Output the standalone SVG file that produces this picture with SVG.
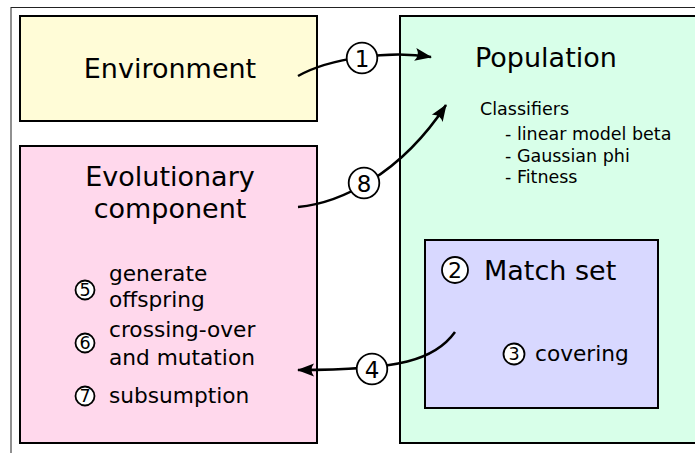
<svg xmlns="http://www.w3.org/2000/svg" width="695" height="453" viewBox="0 0 695 453">
  <defs>
    <marker id="arrow" markerUnits="userSpaceOnUse" markerWidth="24" markerHeight="20" viewBox="-20 -10 24 20" refX="0" refY="0" orient="auto">
      <path d="M1,0 L-16,-6.5 Q-11,0 -16,6.5 Z" fill="#000"/>
    </marker>
  </defs>
  <style>
    text { font-family: "DejaVu Sans", "Liberation Sans", sans-serif; fill: #000; }
    .box { stroke: #000; stroke-width: 2; }
    .title { font-size: 27px; }
    .item { font-size: 21.7px; }
    .small { font-size: 17.5px; }
    .conn { fill: none; stroke: #000; stroke-width: 2.5; }
    .badge { fill: #fff; stroke: #000; stroke-width: 1.8; }
    .num { text-anchor: middle; }
  </style>
  <rect x="0" y="0" width="695" height="453" fill="#fff"/>
  <rect x="11" y="7.5" width="700" height="460" fill="none" stroke="#222" stroke-width="1"/>

  <g id="environment">
    <rect class="box" x="20" y="16" width="297" height="105" fill="#fffcd7"/>
    <text class="title" x="170" y="78" text-anchor="middle">Environment</text>
  </g>

  <g id="evolutionary">
    <rect class="box" x="20" y="146" width="297" height="297" fill="#ffd8ec"/>
    <text class="title" x="170" y="186" text-anchor="middle">Evolutionary</text>
    <text class="title" x="170" y="218" text-anchor="middle">component</text>
    <circle class="badge" cx="85" cy="290" r="9.5"/>
    <text class="num" x="85" y="296.2" font-size="17.5">5</text>
    <text class="item" x="109" y="280.5">generate</text>
    <text class="item" x="109" y="306.5">offspring</text>
    <circle class="badge" cx="85" cy="343" r="9.5"/>
    <text class="num" x="85" y="349.2" font-size="17.5">6</text>
    <text class="item" x="109" y="337">crossing-over</text>
    <text class="item" x="109" y="365">and mutation</text>
    <circle class="badge" cx="85" cy="396" r="9.5"/>
    <text class="num" x="85" y="402.2" font-size="17.5">7</text>
    <text class="item" x="109" y="403">subsumption</text>
  </g>

  <g id="population">
    <rect class="box" x="400" y="16" width="310" height="427" fill="#d8ffe9"/>
    <text class="title" x="475" y="67">Population</text>
    <text class="small" x="480" y="115">Classifiers</text>
    <text class="small" x="505" y="140">- linear model beta</text>
    <text class="small" x="505" y="161.5">- Gaussian phi</text>
    <text class="small" x="505" y="183">- Fitness</text>
  </g>

  <g id="matchset">
    <rect class="box" x="425" y="240" width="233" height="168" fill="#d8d8ff"/>
    <circle class="badge" cx="455" cy="270" r="13"/>
    <text class="num" x="455" y="277.8" font-size="22">2</text>
    <text class="title" x="484" y="280">Match set</text>
    <circle class="badge" cx="514" cy="354" r="10.5"/>
    <text class="num" x="514" y="360.2" font-size="17.5">3</text>
    <text class="item" x="535" y="361">covering</text>
  </g>

  <g id="connectors">
    <path class="conn" d="M298,76 C330,58 390,50 431,57" marker-end="url(#arrow)"/>
    <path class="conn" d="M298,207 C340,203 400,175 446,105" marker-end="url(#arrow)"/>
    <path class="conn" d="M455,332 C435,360 400,370 298,370" marker-end="url(#arrow)"/>
    <g id="label1">
      <circle class="badge" cx="362" cy="58" r="15.3"/>
      <text class="num" x="362" y="66.5" font-size="23">1</text>
    </g>
    <g id="label8">
      <circle class="badge" cx="364" cy="183" r="15.3"/>
      <text class="num" x="364" y="191.5" font-size="23">8</text>
    </g>
    <g id="label4">
      <circle class="badge" cx="372" cy="369" r="15.3"/>
      <text class="num" x="372" y="377.5" font-size="23">4</text>
    </g>
  </g>
</svg>
